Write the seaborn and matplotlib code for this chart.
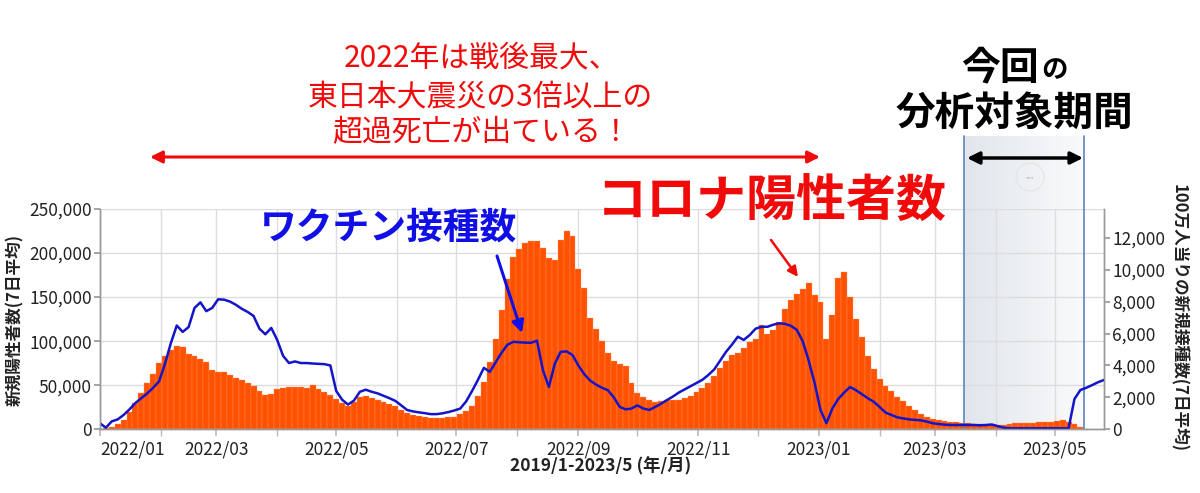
import numpy as np
import pandas as pd
import matplotlib
matplotlib.use("Agg")
import matplotlib.pyplot as plt
import matplotlib.dates as mdates
import matplotlib.transforms as mtransforms
from matplotlib.ticker import FuncFormatter
from matplotlib.patches import Circle
import seaborn as sns

# new positive cases (7-day avg), one value every 3 days from 2022-01-01
cases = [500, 1500, 2800, 6000, 11000, 20000, 30000, 41000, 52000, 63000,
         75000, 83000, 90000, 94000, 93000, 86000, 83000, 80000, 76000, 67000,
         65000, 64500, 62000, 58500, 55500, 53000, 49500, 43000, 39000, 40000,
         45500, 47000, 47500, 48500, 48000, 47000, 50000, 46000, 42000, 39000,
         34000, 30000, 26000, 31000, 37000, 38000, 35000, 33000, 31000, 28500,
         26000, 22000, 18500, 16500, 15000, 14000, 13000, 12500, 12500, 13500,
         14500, 17000, 20500, 27000, 38000, 54000, 76000, 103000, 135000, 170000,
         196000, 205000, 211000, 214000, 214000, 206000, 194000, 192000, 215000, 225000,
         219000, 182000, 160000, 126000, 114000, 100000, 87000, 78000, 74000, 72000,
         52000, 41000, 37000, 33000, 31500, 32500, 33500, 33000, 33500, 35000,
         37500, 42000, 47000, 53000, 60000, 70000, 78000, 84000, 87000, 92000,
         99000, 103000, 118000, 108000, 113000, 122000, 136000, 147000, 154000, 159000,
         166000, 152000, 145000, 102000, 130000, 172000, 178000, 150000, 125000, 105000,
         83000, 68000, 57000, 49000, 43000, 37000, 32000, 27000, 22000, 17500,
         14500, 11500, 10000, 9200, 8500, 7800, 7200, 6800, 6300, 5800,
         5400, 5100, 4900, 5200, 6000, 6600, 7000, 7200, 7500, 7900,
         8300, 8700, 9300, 10500, 8500, 5500, 3000, 800]

# new vaccinations per million (7-day avg), one value every 3 days from 2022-01-01
vacc = [375, 100, 500, 620, 900, 1250, 1650, 1950, 2250, 2600,
        3000, 4100, 5400, 6500, 6100, 6400, 7600, 7950, 7400, 7600,
        8140, 8120, 8000, 7800, 7550, 7350, 7100, 6300, 5950, 6350,
        5600, 4600, 4150, 4250, 4150, 4150, 4120, 4100, 4080, 4000,
        2400, 1850, 1550, 1800, 2350, 2480, 2350, 2250, 2100, 1950,
        1780, 1500, 1210, 1120, 1060, 1010, 950, 950, 1000, 1080,
        1180, 1300, 1750, 2400, 3100, 3850, 3600, 4200, 4800, 5300,
        5480, 5450, 5430, 5420, 5550, 3700, 2650, 4100, 4850, 4880,
        4650, 4000, 3450, 3050, 2800, 2600, 2450, 2000, 1400, 1250,
        1300, 1500, 1300, 1210, 1400, 1600, 1830, 2050, 2300, 2500,
        2700, 2900, 3100, 3400, 3750, 4300, 4850, 5300, 5800, 5600,
        5900, 6300, 6420, 6420, 6550, 6640, 6600, 6480, 6220, 5500,
        4300, 2900, 1200, 380, 1300, 1900, 2300, 2650, 2450, 2200,
        1950, 1730, 1400, 1050, 900, 750, 680, 620, 590, 560,
        480, 380, 330, 290, 270, 270, 270, 270, 270, 250,
        270, 300, 200, 100, 60, 60, 60, 60, 60, 60,
        60, 60, 60, 60, 60, 1900, 2460, 2600, 2770, 2950,
        3090]

case_dates = pd.date_range("2022-01-01", periods=len(cases), freq="3D")
vacc_dates = pd.date_range("2022-01-01", periods=len(vacc), freq="3D")

left_ticks = [0, 50000, 100000, 150000, 200000, 250000]
right_ticks = [0, 2000, 4000, 6000, 8000, 10000, 12000]
label_months = pd.date_range("2022-01-01", "2023-05-01", freq="2MS")
other_months = pd.date_range("2022-02-01", "2023-04-01", freq="2MS")
period_start, period_end = pd.Timestamp("2023-03-16"), pd.Timestamp("2023-05-16")

ORANGE = "#ff5200"
BLUE = "#1414c8"
RED = "#f00a0a"

sns.set_theme(style="whitegrid")
plt.rcParams["font.family"] = ["Noto Sans CJK JP", "DejaVu Sans"]

fig = plt.figure(figsize=(12, 4.93), dpi=100)
ax1 = fig.add_axes([100 / 1200, 1 - 429.3 / 493, 1004 / 1200, 220.3 / 493])
ax2 = ax1.twinx()

def fx(px):
    return px / 1200

def fy(py):
    return 1 - py / 493

# ----- bars : positive cases
df_cases = pd.DataFrame({"x": mdates.date2num(case_dates), "cases": cases})
sns.barplot(data=df_cases, x="x", y="cases", native_scale=True, width=1.0,
            color=ORANGE, saturation=1, errorbar=None, edgecolor="#ff9466",
            linewidth=0.25, ax=ax1, zorder=2)

# ----- line : vaccinations
df_vacc = pd.DataFrame({"x": mdates.date2num(vacc_dates), "vacc": vacc})
sns.lineplot(data=df_vacc, x="x", y="vacc", color=BLUE, lw=1.8, ax=ax2)

x0 = mdates.date2num(pd.Timestamp("2022-01-01"))
x1 = mdates.date2num(pd.Timestamp("2023-05-26"))
ax1.set_xlim(x0, x1)
ax1.set_ylim(0, 250000)
ax2.set_ylim(0, 12000 * 220.3 / 191.6)

# x axis
ax1.set_xticks(mdates.date2num(label_months),
               [d.strftime("%Y/%m") for d in label_months])
ax1.get_xticklabels()[0].set_horizontalalignment("left")
ax1.set_xticks(mdates.date2num(other_months), minor=True)
ax1.grid(True, which="both", axis="x", color="#dddddd", lw=1)
ax1.grid(True, which="major", axis="y", color="#dddddd", lw=1)
ax1.set_axisbelow(True)
ax2.grid(False)
ax1.tick_params(axis="x", which="both", bottom=True, length=5, color="#bbbbbb",
                labelsize=12.5, pad=3, labelcolor="#222222")
ax1.tick_params(axis="y", left=True, length=4, color="#999999", labelsize=12.5,
                pad=2, labelcolor="#222222")
ax2.tick_params(axis="y", right=True, length=4, color="#999999", labelsize=12.5,
                pad=2, labelcolor="#222222")
ax1.set_yticks(left_ticks)
ax2.set_yticks(right_ticks)
ax1.yaxis.set_major_formatter(FuncFormatter(lambda v, p: f"{int(v):,}"))
ax2.yaxis.set_major_formatter(FuncFormatter(lambda v, p: f"{int(v):,}"))
ax1.set_xlabel("")
ax1.set_ylabel("")
ax2.set_xlabel("")
ax2.set_ylabel("")
for ax in (ax1, ax2):
    ax.spines["top"].set_visible(False)
    for s in ("left", "right", "bottom"):
        ax.spines[s].set_color("#999999")
        ax.spines[s].set_linewidth(1)

# ----- analysis period shading (goes above the plot area)
blend = mtransforms.blended_transform_factory(ax1.transData, ax1.transAxes)
p0 = mdates.date2num(period_start)
p1 = mdates.date2num(period_end)
top = (429.3 - 136) / 220.3
c_left = np.array([0.88, 0.90, 0.925])
c_right = np.array([0.975, 0.978, 0.982])
n = 30
step = (p1 - p0) / n
for i in range(n):
    t = i / (n - 1)
    ax1.add_patch(plt.Rectangle((p0 + i * step, 0), step * 1.02, top,
                                transform=blend, clip_on=False,
                                color=c_left * (1 - t) + c_right * t,
                                lw=0, zorder=0.2))
for p in (p0, p1):
    ax1.axvline(p, ymin=0, ymax=top, clip_on=False, color="#5a86c0", lw=1.2, zorder=3)

# small "..." button
fig.add_artist(Circle((10.30, (493 - 177) / 100), 0.14, transform=fig.dpi_scale_trans,
                      fill=False, edgecolor="#e6e6e6", lw=1))
fig.text(fx(1030), fy(177), "•••", fontsize=6, color="#c8c8c8", ha="center", va="center")

# ----- axis titles
fig.text(fx(15), fy(320), "新規陽性者数(7日平均)", rotation=90, ha="center", va="center",
         fontsize=12, fontweight="bold", color="#222222")
fig.text(fx(1178), fy(318), "100万人当りの新規接種数(7日平均)", rotation=270,
         ha="center", va="center", fontsize=12, fontweight="bold", color="#222222")
fig.text(fx(601), fy(466), "2019/1-2023/5 (年/月)", ha="center", va="center",
         fontsize=12.5, fontweight="bold", color="#222222")

# ----- annotations
fig.text(fx(482), fy(58), "2022年は戦後最大、", ha="center", va="center", fontsize=21.5, color=RED)
fig.text(fx(480), fy(97), "東日本大震災の3倍以上の", ha="center", va="center", fontsize=21.5, color=RED)
fig.text(fx(482), fy(133), "超過死亡が出ている！", ha="center", va="center", fontsize=21.5, color=RED)
ax1.annotate("", xy=(820, 493 - 157), xytext=(150, 493 - 157), xycoords="figure pixels",
             textcoords="figure pixels",
             arrowprops=dict(arrowstyle="<|-|>,head_length=0.6,head_width=0.3",
                             color=RED, lw=2.2, shrinkA=0, shrinkB=0))

fig.text(fx(1000), fy(68), "今回", ha="center", va="center", fontsize=28,
         fontweight="bold", color="black")
fig.text(fx(1054), fy(71), "の", ha="center", va="center", fontsize=19,
         fontweight="bold", color="black")
fig.text(fx(1014), fy(113), "分析対象期間", ha="center", va="center", fontsize=28.5,
         fontweight="bold", color="black")
ax1.annotate("", xy=(1083, 493 - 158), xytext=(967, 493 - 158), xycoords="figure pixels",
             textcoords="figure pixels",
             arrowprops=dict(arrowstyle="<|-|>,head_length=0.6,head_width=0.3",
                             color="black", lw=2.5, shrinkA=0, shrinkB=0))

fig.text(fx(389), fy(228), "ワクチン接種数", ha="center", va="center", fontsize=26.5,
         fontweight="bold", color="#1010e6")
ax1.annotate("", xy=(522, 493 - 333), xytext=(497, 493 - 256), xycoords="figure pixels",
             textcoords="figure pixels",
             arrowprops=dict(arrowstyle="-|>,head_length=0.6,head_width=0.3",
                             color="#1010e6", lw=2.2, shrinkA=0, shrinkB=0))

fig.text(fx(772), fy(202), "コロナ陽性者数", ha="center", va="center", fontsize=36,
         fontweight="bold", color=RED)
ax1.annotate("", xy=(798, 493 - 277), xytext=(771, 493 - 240), xycoords="figure pixels",
             textcoords="figure pixels",
             arrowprops=dict(arrowstyle="-|>,head_length=0.5,head_width=0.25",
                             color=RED, lw=1.8, shrinkA=0, shrinkB=0))

fig.savefig("out.png", dpi=100, facecolor="white")
